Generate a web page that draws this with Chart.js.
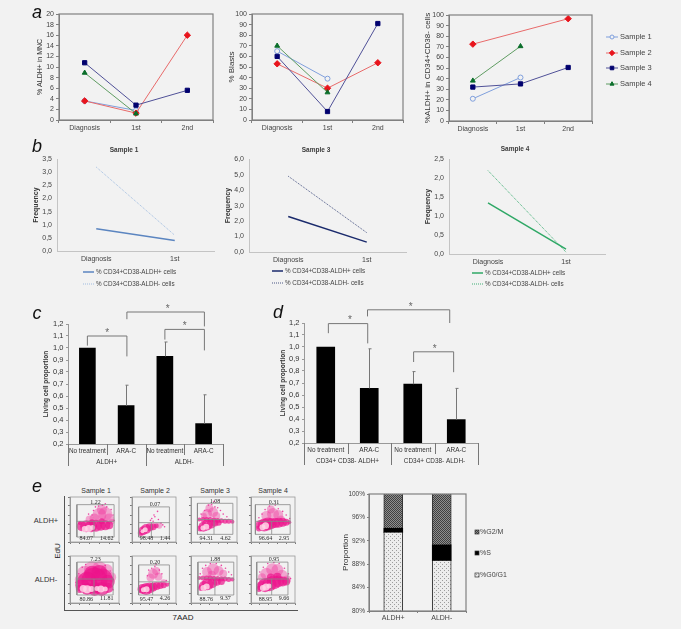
<!DOCTYPE html>
<html>
<head>
<meta charset="utf-8">
<script src="https://cdn.jsdelivr.net/npm/chart.js@4"></script>
<style>
  html, body { margin: 0; padding: 0; background: #f2f2f2; }
  #page { position: relative; width: 681px; height: 629px; overflow: hidden; font-family: "Liberation Sans", Arial, sans-serif; color: #3a3a3a; }
  #page canvas { position: absolute; }
  .lbl { position: absolute; white-space: nowrap; transform: translate(-50%, -50%); }
  .letter { font-style: italic; font-size: 18px; color: #111; }
  .rule { position: absolute; background: #555; }
</style>
</head>
<body>
<div id="page"></div>
<script>
// panel a
const phases = ['Diagnosis', '1st', '2nd'];
const sampleNames = ['Sample 1', 'Sample 2', 'Sample 3', 'Sample 4'];
const mncS1 = [3.6, 1.8, null];
const mncS2 = [3.6, 1.3, 16];
const mncS3 = [10.8, 2.8, 5.6];
const mncS4 = [8.9, 1.2, null];
const blastsS1 = [65, 39, null];
const blastsS2 = [53, 30, 54];
const blastsS3 = [60, 8, 91];
const blastsS4 = [70, 26, null];
const cd34S1 = [21, 41, null];
const cd34S2 = [72.5, null, 96.5];
const cd34S3 = [32, 35, 50.5];
const cd34S4 = [38, 70.5, null];

// panel b
const bPhases = ['Diagnosis', '1st'];
const bPos = '% CD34+CD38-ALDH+ cells';
const bNeg = '% CD34+CD38-ALDH- cells';
const freqS1Pos = [0.85, 0.4];
const freqS1Neg = [3.2, 0.6];
const freqS3Pos = [2.3, 0.64];
const freqS3Neg = [4.9, 1.25];
const freqS4Pos = [1.35, 0.13];
const freqS4Neg = [2.2, 0.05];

// panels c and d
const treatments = ['No treatment', 'ARA-C', 'No treatment', 'ARA-C'];
const cGroups = ['ALDH+', 'ALDH-'];
const cMeans = [1.0, 0.52, 0.93, 0.37];
const cUpper = [null, 0.69, 1.05, 0.61];
const dGroups = ['CD34+ CD38- ALDH+', 'CD34+ CD38- ALDH-'];
const dMeans = [1.0, 0.655, 0.69, 0.395];
const dUpper = [null, 0.985, 0.795, 0.655];

// panel e, cell cycle bars
const cycleCats = ['ALDH+', 'ALDH-'];
const cycleG1 = [93.4, 88.6];
const cycleS = [0.75, 2.7];
const cycleG2 = [5.85, 8.7];

// panel e, flow plots: order is the ALDH+ row, then the ALDH- row
const flowTop = ['1.22', '0.07', '1.08', '0.31', '7.23', '0.20', '1.88', '0.95'];
const flowLeft = ['84.07', '98.48', '94.31', '96.64', '80.86', '95.47', '88.76', '88.95'];
const flowRight = ['14.62', '1.44', '4.62', '2.95', '11.81', '4.26', '9.37', '9.66'];
// gate as x0, x1, y0, y1, horizontal split, vertical split
const flowGates = [
  [14, 90, 11, 83, 46, 49], [15, 85, 11, 78, 43, 44], [14, 91, 17, 86, 50, 50], [10, 89, 17, 83, 46, 47],
  [14, 88, 17, 87, 51, 49], [15, 85, 17, 81, 45, 47], [15, 93, 17, 87, 53, 52], [13, 84, 17, 87, 51, 47]
];
const flowHaze = [
  [[50,52,5],[60,60,7],[72,62,7],[65,72,5],[80,52,5],[40,50,4],[85,45,3]],
  [[62,36,3]],
  [[35,62,5],[48,66,5],[40,75,4],[55,58,4],[28,58,3]],
  [[35,58,5],[50,62,6],[62,60,5],[45,72,4],[68,50,4]],
  [[30,62,8],[45,72,8],[60,74,7],[75,70,6],[84,55,5],[20,50,5]],
  [[48,62,5],[55,68,4],[42,54,4],[60,56,4],[72,44,3]],
  [[35,66,5],[48,72,6],[60,68,5],[45,60,4],[70,62,4]],
  [[35,62,6],[48,72,6],[60,70,6],[70,58,6],[82,50,4],[25,55,4]]
];
const flowCore = [
  [[24,35,5],[33,35,6],[43,35,6],[53,36,6],[63,36,5],[72,37,5],[80,37,4],[20,42,2],[45,44,3],[65,46,3]],
  [[20,20,3],[25,25,4.5],[32,29,5],[40,33,4],[48,34,3.5],[55,36,2.5]],
  [[18,50,2],[26,50,2.5],[34,50,2.5],[42,50,2.5],[50,49,2.5],[58,48,2.5],[66,47,2.5],[74,46,2.5],[82,46,2.5],[90,45,2],[20,30,3],[27,34,5],[35,38,5.5],[44,40,4.5],[52,42,3.5],[60,43,3]],
  [[18,30,3],[22,38,5],[30,38,6.5],[38,40,6.5],[46,41,5.5],[55,42,5],[63,43,5],[72,44,4.5],[80,44,3.5],[87,44,2]],
  [[25,38,7],[35,45,10],[50,48,13],[65,50,11],[77,45,7],[45,62,8],[60,64,8],[35,30,6],[50,30,7],[65,30,7],[78,32,5],[20,30,4]],
  [[20,28,3],[24,30,5],[32,30,6],[40,32,5.5],[48,34,4.5],[56,36,4],[64,37,3.5],[72,38,3],[80,39,2]],
  [[18,53,2],[26,53,2.5],[34,53,2.5],[42,53,2.5],[50,52,2.5],[58,52,2.5],[66,51,2.5],[74,51,2.5],[82,50,2.5],[90,50,2],[22,32,3],[28,36,5],[36,40,6],[46,42,5],[56,45,4],[66,46,3.5]],
  [[18,30,3],[24,36,5],[32,38,7],[42,40,7],[52,44,7],[62,46,6],[72,46,5],[80,46,4],[60,56,4],[45,54,4]]
];
const flowPale = [
  [[30,29,3],[38,30,3.5],[46,32,2.5]],
  [[24,24,2],[30,27,2.5]],
  [[26,31,2.5],[33,34,3]],
  [[26,33,3],[33,36,3.5]],
  [[27,31,3.5],[35,29,4],[44,30,3],[55,31,2.5],[63,30,3.5],[72,30,2.5]],
  [[26,28,2.5],[33,29,3]],
  [[27,32,3],[34,35,3]],
  [[27,32,3],[34,34,3.5],[41,36,2.5]]
];
const flowSpeck = [
  [[45,60],[52,78],[58,80],[66,82],[75,78],[84,72],[88,60],[38,62],[48,70],[72,85],[90,48]],
  [[45,52],[50,60],[58,68],[52,56],[42,48],[60,50],[66,42],[70,38],[74,34],[48,46]],
  [[30,70],[38,82],[45,84],[52,78],[58,76],[64,70],[70,62],[22,62],[78,56],[50,90]],
  [[25,62],[32,72],[42,80],[55,82],[62,74],[72,68],[80,60],[18,54],[88,52]],
  [[18,62],[25,76],[32,82],[72,80],[82,68],[88,50],[12,44],[88,28]],
  [[38,70],[45,74],[52,78],[62,70],[68,62],[35,58],[78,48],[84,42],[55,82]],
  [[25,74],[32,80],[42,84],[55,84],[66,80],[75,74],[82,66],[88,60],[20,62]],
  [[20,66],[28,76],[38,84],[52,86],[64,84],[76,74],[85,62],[90,52],[14,50]]
];

const GREY = '#808080';
const TICK = '#444';
Chart.defaults.font.family = '"Liberation Sans", Arial, sans-serif';
Chart.defaults.font.size = 7;
Chart.defaults.color = TICK;
Chart.defaults.animation = false;

const page = document.getElementById('page');

function label(text, x, y, css) {
  const el = document.createElement('div');
  el.className = 'lbl';
  el.textContent = text;
  el.style.left = x + 'px';
  el.style.top = y + 'px';
  el.style.fontSize = '7px';
  if (css) Object.assign(el.style, css);
  page.appendChild(el);
  return el;
}

// puts a chart so that its plot area lands on box {x0, x1, y0, y1}
function place(box, config, o) {
  o = Object.assign({ yW: 45, xH: 18, top: 8, right: 8, bottom: 0 }, o);
  const c = document.createElement('canvas');
  c.style.left = (box.x0 - o.yW) + 'px';
  c.style.top = (box.y0 - o.top) + 'px';
  c.width = box.x1 - box.x0 + o.yW + o.right;
  c.height = box.y1 - box.y0 + o.top + o.xH + o.bottom;
  page.appendChild(c);
  config.options = Object.assign({ responsive: false }, config.options);
  config.options.layout = { autoPadding: false, padding: { top: o.top, right: o.right, left: 0, bottom: o.bottom } };
  config.options.plugins = Object.assign({ legend: { display: false }, tooltip: { enabled: false } }, config.options.plugins);
  return new Chart(c, config);
}

function yTitle(text, titleX, box, yW, font) {
  return {
    display: true, text: text, color: '#333',
    font: Object.assign({ size: 7, lineHeight: 1 }, font),
    padding: { top: titleX - (box.x0 - yW) - (font && font.size || 7) / 2, bottom: 0 }
  };
}

const comma = v => Number(v).toFixed(1).replace('.', ',');

const framePlugin = (color, w) => ({
  id: 'frame',
  afterDraw(chart) {
    const a = chart.chartArea, ctx = chart.ctx;
    ctx.save();
    ctx.strokeStyle = color || GREY;
    ctx.lineWidth = w || 1;
    ctx.strokeRect(a.left, a.top, a.right - a.left, a.bottom - a.top);
    ctx.restore();
  }
});

// series legend drawn in page coordinates, line + marker + name
const lineLegend = (x, ys, lineW, textGap) => ({
  id: 'lineLegend',
  afterDraw(chart) {
    const ctx = chart.ctx, ox = chart.canvas.offsetLeft, oy = chart.canvas.offsetTop;
    chart.data.datasets.forEach((ds, i) => {
      const y = ys[i] - oy, x0 = x - ox;
      ctx.save();
      ctx.strokeStyle = ds.borderColor;
      ctx.lineWidth = ds.borderWidth;
      ctx.setLineDash(ds.borderDash || []);
      ctx.beginPath(); ctx.moveTo(x0, y); ctx.lineTo(x0 + lineW, y); ctx.stroke();
      ctx.setLineDash([]);
      if (ds.pointRadius) {
        ctx.fillStyle = ds.pointBackgroundColor;
        ctx.strokeStyle = ds.pointBorderColor;
        ctx.lineWidth = 1;
        Chart.helpers.drawPoint(ctx, { pointStyle: ds.pointStyle, radius: ds.pointRadius - 0.5, borderWidth: 1 }, x0 + lineW / 2, y);
      }
      ctx.fillStyle = TICK;
      ctx.font = (ds.pointRadius ? '7.5' : '6.3') + 'px "Liberation Sans"';
      ctx.textBaseline = 'middle';
      ctx.fillText(ds.label, x0 + lineW + textGap, y);
      ctx.restore();
    });
  }
});

// later samples sit on top of earlier ones, as in the original
function sampleSets(a, b, c, d) {
  return [
    { label: sampleNames[0], data: a, order: 4, borderColor: '#7f9fdc', borderWidth: 1, pointStyle: 'circle', pointRadius: 2.5, pointBackgroundColor: '#f2f2f2', pointBorderColor: '#7f9fdc' },
    { label: sampleNames[1], data: b, order: 3, borderColor: '#e86a6a', borderWidth: 1, pointStyle: 'rectRot', pointRadius: 3.2, pointBackgroundColor: '#e8141c', pointBorderColor: '#e8141c', spanGaps: true },
    { label: sampleNames[2], data: c, order: 2, borderColor: '#4f5097', borderWidth: 1, pointStyle: 'rect', pointRadius: 3, pointBackgroundColor: '#00006e', pointBorderColor: '#00006e' },
    { label: sampleNames[3], data: d, order: 1, borderColor: '#5f9c62', borderWidth: 1, pointStyle: 'triangle', pointRadius: 2.8, pointBackgroundColor: '#0a6e2a', pointBorderColor: '#0a6e2a' }
  ];
}

function panelA(box, sets, yMax, step, title, titleX, titleFont, right, plugins) {
  const yW = 45, xH = 18;
  place(box, {
    type: 'line',
    data: { labels: phases, datasets: sets },
    options: {
      scales: {
        x: {
          offset: true,
          afterFit: s => { s.height = xH; },
          grid: { offset: true, drawOnChartArea: false, tickLength: 3, color: GREY },
          border: { color: GREY },
          ticks: { padding: 1, autoSkip: false, maxRotation: 0 }
        },
        y: {
          min: 0, max: yMax,
          afterFit: s => { s.width = yW; },
          grid: { drawOnChartArea: false, tickLength: 3, color: GREY },
          border: { color: GREY },
          ticks: { stepSize: step, padding: 2, autoSkip: false },
          title: yTitle(title, titleX, box, yW, titleFont)
        }
      }
    },
    plugins: [framePlugin(GREY, 1.2)].concat(plugins || [])
  }, { right: right || 8 });
}

const a1Box = { x0: 59, x1: 213, y0: 14, y1: 120 };
const a2Box = { x0: 252, x1: 403, y0: 14, y1: 120 };
const a3Box = { x0: 449, x1: 592, y0: 15, y1: 121 };
panelA(a1Box, sampleSets(mncS1, mncS2, mncS3, mncS4), 20, 2, '% ALDH+ in MNC', 40, { size: 7 });
panelA(a2Box, sampleSets(blastsS1, blastsS2, blastsS3, blastsS4), 100, 10, '% Blasts', 232, { size: 8 });
panelA(a3Box, sampleSets(cd34S1, cd34S2, cd34S3, cd34S4), 100, 10, '%ALDH+ in CD34+CD38- cells', 428, { size: 8 }, 85,
  [lineLegend(606, [37, 53, 68, 84], 12, 2)]);

function panelB(box, pos, neg, posColor, negColor, yMax, step, titleX, legX, legYs) {
  const yW = 45, xH = 14;
  place(box, {
    type: 'line',
    data: {
      labels: bPhases,
      datasets: [
        { label: bPos, data: pos, borderColor: posColor, borderWidth: 1.5, pointRadius: 0 },
        { label: bNeg, data: neg, borderColor: negColor, borderWidth: 1, borderDash: [1, 1], pointRadius: 0 }
      ]
    },
    options: {
      scales: {
        x: {
          offset: true,
          afterFit: s => { s.height = xH; },
          grid: { display: false, drawTicks: false },
          border: { color: '#c4c4c4' },
          ticks: { padding: 4, autoSkip: false, maxRotation: 0 }
        },
        y: {
          min: 0, max: yMax,
          afterFit: s => { s.width = yW; },
          grid: { display: false, drawTicks: false },
          border: { color: '#c4c4c4' },
          ticks: { stepSize: step, padding: 5, autoSkip: false, callback: comma },
          title: yTitle('Frequency', titleX, box, yW, { size: 7, weight: 'bold' })
        }
      }
    },
    plugins: [lineLegend(legX, legYs, 11, 2)]
  }, { xH: xH, bottom: 28, right: 12 });
}

const b1Box = { x0: 57, x1: 214, y0: 158, y1: 251 };
const b2Box = { x0: 249, x1: 406, y0: 158, y1: 252 };
const b3Box = { x0: 449, x1: 605, y0: 158, y1: 254 };
panelB(b1Box, freqS1Pos, freqS1Neg, '#5b85c0', '#9fbce0', 3.5, 0.5, 36, 83, [272, 284]);
panelB(b2Box, freqS3Pos, freqS3Neg, '#1a2a6c', '#4a5684', 6, 1, 228, 272, [271, 283]);
panelB(b3Box, freqS4Pos, freqS4Neg, '#2fa866', '#3fae74', 2.5, 0.5, 428, 472, [273, 284]);
label('Sample 1', 124, 149, { fontWeight: 'bold', fontSize: '6.5px' });
label('Sample 3', 316, 149, { fontWeight: 'bold', fontSize: '6.5px' });
label('Sample 4', 515, 148, { fontWeight: 'bold', fontSize: '6.5px' });

// error whiskers, group separators and significance brackets for c and d
const barExtras = (upper, brackets) => ({
  id: 'barExtras',
  afterDraw(chart) {
    const ctx = chart.ctx, xs = chart.scales.x, ys = chart.scales.y, bottom = chart.chartArea.bottom;
    ctx.save();
    ctx.strokeStyle = '#777';
    ctx.lineWidth = 1;
    upper.forEach((u, i) => {
      if (u === null) return;
      const x = Math.round(xs.getPixelForValue(i)) + 0.5, top = ys.getPixelForValue(u);
      ctx.beginPath();
      ctx.moveTo(x, ys.getPixelForValue(chart.data.datasets[0].data[i]));
      ctx.lineTo(x, top);
      ctx.moveTo(x - 1, top); ctx.lineTo(x + 2, top);
      ctx.stroke();
    });
    [-0.5, 0.5, 1.5, 2.5, 3.5].forEach((b, i) => {
      const x = Math.round(xs.getPixelForValue(b)) + 0.5;
      ctx.beginPath();
      ctx.moveTo(x, bottom);
      ctx.lineTo(x, bottom + (i % 2 ? 11 : 22));
      ctx.stroke();
    });
    brackets.forEach(k => {
      const l = xs.getPixelForValue(k.from), r = xs.getPixelForValue(k.to), t = ys.getPixelForValue(k.top);
      ctx.beginPath();
      ctx.moveTo(l, ys.getPixelForValue(k.leftEnd));
      ctx.lineTo(l, t); ctx.lineTo(r, t);
      ctx.lineTo(r, ys.getPixelForValue(k.rightEnd));
      ctx.stroke();
      ctx.fillStyle = '#666';
      ctx.font = '10px "Liberation Sans"';
      ctx.textAlign = 'center';
      ctx.textBaseline = 'middle';
      ctx.fillText('*', (l + r) / 2 + k.shift, t - 3);
    });
    ctx.restore();
  }
});

function panelBars(box, groups, means, upper, thickness, titleX, brackets) {
  const yW = 45;
  place(box, {
    type: 'bar',
    data: { labels: treatments, datasets: [{ data: means, backgroundColor: '#000', barThickness: thickness }] },
    options: {
      scales: {
        x: {
          afterFit: s => { s.height = 11; },
          grid: { display: false, drawTicks: false },
          border: { color: '#999' },
          ticks: { padding: 3.5, autoSkip: false, maxRotation: 0, color: '#333', font: { size: 6.4 } }
        },
        x2: {
          type: 'category', labels: groups, position: 'bottom',
          afterFit: s => { s.height = 11; },
          grid: { display: false, drawTicks: false }, border: { display: false },
          ticks: { padding: 3.5, autoSkip: false, maxRotation: 0, color: '#333', font: { size: 6.4 } }
        },
        y: {
          min: 0.2, max: 1.2,
          afterFit: s => { s.width = yW; },
          grid: { drawOnChartArea: false, tickLength: 2, color: '#999' },
          border: { color: '#999' },
          ticks: { stepSize: 0.1, padding: 2.5, autoSkip: false, callback: comma, font: { size: 7.5 }, color: '#333' },
          title: yTitle('Living cell proportion', titleX, box, yW, { size: 6.5, weight: 'bold' })
        }
      }
    },
    plugins: [barExtras(upper, brackets)]
  }, { top: 25, xH: 22, bottom: 2 });
}

const cBox = { x0: 68, x1: 223, y0: 324, y1: 444 };
const dBox = { x0: 304, x1: 478, y0: 323, y1: 443 };
panelBars(cBox, cGroups, cMeans, cUpper, 16, 46, [
  { from: 0, to: 1.02, top: 1.1, leftEnd: 1.02, rightEnd: 0.93, shift: 0 },
  { from: 1.02, to: 3.02, top: 1.3, leftEnd: 1.24, rightEnd: 1.18, shift: 2 },
  { from: 2, to: 3.02, top: 1.155, leftEnd: 1.07, rightEnd: 0.98, shift: 0 }
]);
panelBars(dBox, dGroups, dMeans, dUpper, 18, 283, [
  { from: 0.06, to: 0.965, top: 1.195, leftEnd: 1.115, rightEnd: 1.03, shift: 2 },
  { from: 0.96, to: 2.85, top: 1.31, leftEnd: 1.255, rightEnd: 1.2, shift: 2 },
  { from: 2.02, to: 2.94, top: 0.96, leftEnd: 0.875, rightEnd: 0.79, shift: 1 }
]);

// stippled fills for the cell cycle bars
function pattern(size, bg, fg, cells) {
  const p = document.createElement('canvas');
  p.width = size; p.height = size;
  const g = p.getContext('2d');
  g.fillStyle = bg; g.fillRect(0, 0, size, size);
  g.fillStyle = fg;
  cells.forEach(c => g.fillRect(c[0], c[1], 1, 1));
  return g.createPattern(p, 'repeat');
}
const dotFill = pattern(4, '#ececec', '#9c9c9c', [[0, 0], [2, 2]]);
const checkFill = pattern(2, '#8e8e8e', '#404040', [[0, 0], [1, 1]]);

const cycleBox = { x0: 369, x1: 466, y0: 494, y1: 611 };
place(cycleBox, {
  type: 'bar',
  data: {
    labels: cycleCats,
    datasets: [
      { label: '%G0/G1', data: cycleG1, backgroundColor: dotFill, borderColor: '#333', borderWidth: { left: 1, right: 1 }, barThickness: 19 },
      { label: '%S', data: cycleS, backgroundColor: '#000', barThickness: 19 },
      { label: '%G2/M', data: cycleG2, backgroundColor: checkFill, borderColor: '#333', borderWidth: { left: 1, right: 1 }, barThickness: 19 }
    ]
  },
  options: {
    scales: {
      x: {
        stacked: true,
        afterFit: s => { s.height = 14; },
        grid: { offset: true, drawOnChartArea: false, tickLength: 2, color: GREY },
        border: { color: GREY },
        ticks: { padding: 1, autoSkip: false, maxRotation: 0 }
      },
      y: {
        stacked: true, min: 80, max: 100,
        afterFit: s => { s.width = 45; },
        grid: { drawOnChartArea: false, tickLength: 2, color: GREY },
        border: { color: GREY },
        ticks: { stepSize: 4, padding: 2, autoSkip: false, callback: v => v + '%', font: { size: 6.5 } },
        title: yTitle('Proportion', 346, cycleBox, 45, { size: 8 })
      }
    }
  },
  plugins: [framePlugin(GREY, 1.2), {
    id: 'cycleLegend',
    afterDraw(chart) {
      const ctx = chart.ctx, ox = chart.canvas.offsetLeft, oy = chart.canvas.offsetTop;
      const ys = [575, 553, 532];
      chart.data.datasets.forEach((ds, i) => {
        ctx.save();
        ctx.fillStyle = ds.backgroundColor;
        ctx.fillRect(475 - ox, ys[i] - oy - 2, 4, 4);
        ctx.strokeStyle = '#333';
        ctx.lineWidth = 0.7;
        ctx.strokeRect(475 - ox, ys[i] - oy - 2, 4, 4);
        ctx.fillStyle = TICK;
        ctx.font = '7px "Liberation Sans"';
        ctx.textBaseline = 'middle';
        ctx.fillText(ds.label, 480 - ox, ys[i] - oy);
        ctx.restore();
      });
    }
  }]
}, { right: 60, xH: 14 });

const toPoints = list => list.map(p => ({ x: p[0], y: p[1], r: p.length > 2 ? p[2] : 0.8 }));
const gateLine = pts => ({
  type: 'scatter', data: pts.map(p => ({ x: p[0], y: p[1] })), showLine: true, pointRadius: 0,
  borderColor: '#8a8a8a', borderWidth: 0.8
});

function flowPlot(box, i) {
  const g = flowGates[i];
  place(box, {
    type: 'bubble',
    data: {
      datasets: [
        gateLine([[g[0], g[2]], [g[1], g[2]], [g[1], g[3]], [g[0], g[3]], [g[0], g[2]]]),
        gateLine([[g[0], g[4]], [g[1], g[4]]]),
        gateLine([[g[5], g[2]], [g[5], g[4]]]),
        { data: toPoints(flowPale[i]), backgroundColor: 'rgba(255,214,232,0.85)', borderWidth: 0 },
        { data: toPoints(flowCore[i]), backgroundColor: 'rgba(236,20,140,0.7)', borderWidth: 0 },
        { data: toPoints(flowSpeck[i]), backgroundColor: 'rgba(235,40,150,0.85)', borderWidth: 0 },
        { data: toPoints(flowHaze[i]), backgroundColor: 'rgba(240,60,160,0.42)', borderWidth: 0 }
      ]
    },
    options: {
      scales: {
        x: {
          type: 'linear', min: 0, max: 100,
          afterFit: s => { s.height = 3; },
          grid: { drawOnChartArea: false, tickLength: 2, color: '#777' },
          border: { color: '#999' },
          ticks: { display: false, stepSize: 20 }
        },
        y: {
          min: 0, max: 100,
          afterFit: s => { s.width = 3; },
          grid: { drawOnChartArea: false, tickLength: 2, color: '#777' },
          border: { color: '#999' },
          ticks: { display: false, stepSize: 20 }
        }
      }
    },
    plugins: [framePlugin('#9a9a9a', 0.8), {
      id: 'flowText',
      afterDraw(chart) {
        const ctx = chart.ctx, xs = chart.scales.x, ys = chart.scales.y;
        ctx.save();
        ctx.fillStyle = '#2b2b2b';
        ctx.font = '6px "Liberation Serif"';
        ctx.textAlign = 'center';
        ctx.textBaseline = 'middle';
        ctx.fillText(flowTop[i], xs.getPixelForValue(52), ys.getPixelForValue(g[3] + 5));
        ctx.fillText(flowLeft[i], xs.getPixelForValue(33), ys.getPixelForValue(8));
        ctx.fillText(flowRight[i], xs.getPixelForValue(75), ys.getPixelForValue(9));
        ctx.restore();
      }
    }]
  }, { yW: 3, xH: 3, top: 2, right: 2 });
}

const flowCols = [[70, 119], [132, 176], [191, 237], [251, 295]];
const flowRows = [[497, 542], [556, 603]];
flowRows.forEach((r, ri) => flowCols.forEach((c, ci) => {
  flowPlot({ x0: c[0], x1: c[1], y0: r[0], y1: r[1] }, ri * 4 + ci);
}));

[['Sample 1', 96], ['Sample 2', 155], ['Sample 3', 215], ['Sample 4', 273]].forEach(s => {
  label(s[0], s[1], 490, { fontSize: '7px', color: '#333' });
});
label('ALDH+', 46, 520, { fontSize: '7.5px', color: '#333' });
label('ALDH-', 46, 579, { fontSize: '7.5px', color: '#333' });
label('EdU', 57, 551, { fontSize: '8px', color: '#222', transform: 'translate(-50%,-50%) rotate(-90deg)' });
label('7AAD', 183, 617, { fontSize: '8px', color: '#222' });

// outer axes round the flow plots
[[64, 496, 1.2, 114], [64, 610, 234, 1.2]].forEach(r => {
  const el = document.createElement('div');
  el.className = 'rule';
  el.style.left = r[0] + 'px';
  el.style.top = r[1] + 'px';
  el.style.width = r[2] + 'px';
  el.style.height = r[3] + 'px';
  page.appendChild(el);
});

[['a', 37, 12], ['b', 37, 146], ['c', 37, 313], ['d', 278, 312], ['e', 37, 486]].forEach(l => {
  const el = label(l[0], l[1], l[2]);
  el.className = 'lbl letter';
  el.style.fontSize = '18px';
});
</script>
</body>
</html>
